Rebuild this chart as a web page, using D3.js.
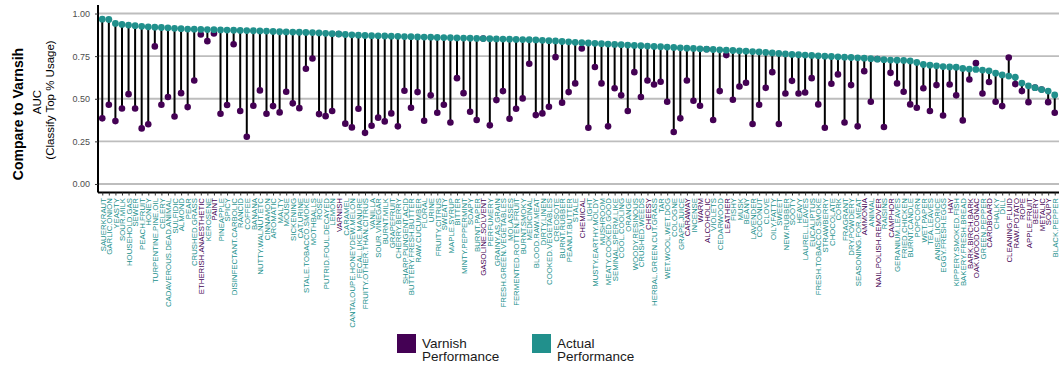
<!DOCTYPE html>
<html>
<head>
<meta charset="utf-8">
<script src="https://cdn.jsdelivr.net/npm/d3@7"></script>
<style>
  body { margin: 0; background: #fff; }
  svg { display: block; font-family: "Liberation Sans", Arial, sans-serif; }
</style>
</head>
<body>
<svg id="chart" width="1062" height="381"></svg>
<script>
// Odor descriptors, ordered by actual AUC
const categories = [
  "SAUERKRAUT","GARLIC.ONION","YEASTY","SOUR.MILK","HOUSEHOLD.GAS","SEWER","PEACH.FRUIT","HONEY",
  "TURPENTINE.PINE.OIL","CELERY","CADAVEROUS.DEAD.ANIMAL","SULFIDIC","ALMOND","PEAR","CRUSHED.GRASS",
  "ETHERISH.ANAESTHETIC","KEROSENE","PAINT","PINEAPPLE","SPICY","DISINFECTANT.CARBOLIC","RANCID","COFFEE",
  "BANANA","NUTTY.WALNUT.ETC","CINNAMON","AROMATIC","MALTY","MOUSE","SICKENING","CAT.URINE",
  "STALE.TOBACCO.SMOKE","MOTHBALLS","ROSE","PUTRID.FOUL.DECAYED","LEMON","VARNISH","CARAMEL",
  "CANTALOUPE.HONEYDEW.MELON","FECAL.LIKE.MANURE","FRUITY.OTHER.THAN.CITRUS","VANILLA","SOUR.VINEGAR",
  "BURNT.MILK","GRAPEFRUIT","CHERRY.BERRY","SHARP.PUNGENT.ACID","BUTTERY.FRESH.BUTTER","RAW.CUCUMBER",
  "FLORAL","URINE","FRUITY.CITRUS","SWEATY","MAPLE.SYRUP","BITTER","MINTY.PEPPERMINT","SOAPY",
  "BURNT.PAPER","GASOLINE.SOLVENT","PERFUMERY","GRAINY.AS.GRAIN","FRESH.GREEN.VEGETABLES","MOLASSES",
  "FERMENTED.ROTTEN.FRUIT","BURNT.SMOKY","MEDICINAL","BLOOD.RAW.MEAT","DIRTY.LINEN","COOKED.VEGETABLES",
  "CREOSOTE","BURNT.RUBBER","PEANUT.BUTTER","STALE","CHEMICAL","LIGHT","MUSTY.EARTHY.MOLDY","MUSHROOM",
  "MEATY.COOKED.GOOD","SEMINAL.SPERM.LIKE","COOL.COOLING","ORANGE","WOODY.RESINOUS","CRUSHED.WEEDS",
  "CHEESY","HERBAL.GREEN.CUT.GRASS","TAR","WET.WOOL.WET.DOG","COLOGNE","GRAPE.JUICE","CARAWAY","INCENSE",
  "WARM","ALCOHOLIC","VIOLETS","CEDARWOOD","LEATHER","FISHY","MUSK","BEANY","LAVENDER","COCONUT","CLOVE",
  "OILY.FATTY","SWEET","NEW.RUBBER","SOOTY","HEAVY","LAUREL.LEAVES","EUCALIPTUS","FRESH.TOBACCO.SMOKE",
  "STRAWBERRY","CHOCOLATE","CORK","FRAGRANT","DRY.POWDERY","SEASONING.FOR.MEAT","AMMONIA","ANIMAL",
  "NAIL.POLISH.REMOVER","RAISINS","CAMPHOR","GERANIUM.LEAVES","FRIED.CHICKEN","BURNT.CANDLE","POPCORN",
  "WET.PAPER","TEA.LEAVES","ANISE.LICORICE","EGGY.FRESH.EGGS","HAY","KIPPERY.SMOKED.FISH",
  "BAKERY.FRESH.BREAD","BARK.BIRCH.BARK","OAK.WOOD.COGNAC","GREEN.PEPPER","CARDBOARD","CHALKY","DILL",
  "CLEANING.FLUID","RAW.POTATO","ROPE","APPLE.FRUIT","BEERY","METALIC","SOUPY","BLACK.PEPPER"
];

// AUC of each descriptor's own classifier
const actualAUC = [
  0.967,0.965,0.942,0.936,0.932,0.929,0.925,0.922,0.920,0.918,0.916,0.913,0.911,0.909,0.908,0.907,
  0.906,0.905,0.904,0.903,0.902,0.901,0.900,0.899,0.898,0.897,0.895,0.893,0.892,0.891,0.890,0.889,
  0.888,0.886,0.884,0.882,0.880,0.877,0.875,0.873,0.871,0.870,0.869,0.868,0.867,0.866,0.865,0.864,
  0.863,0.862,0.861,0.860,0.859,0.858,0.857,0.856,0.855,0.854,0.853,0.852,0.851,0.850,0.849,0.848,
  0.847,0.846,0.845,0.843,0.841,0.839,0.836,0.834,0.831,0.829,0.827,0.825,0.823,0.821,0.819,0.817,
  0.815,0.813,0.811,0.809,0.807,0.805,0.803,0.801,0.799,0.797,0.795,0.793,0.791,0.789,0.787,0.785,
  0.783,0.781,0.779,0.777,0.775,0.772,0.769,0.766,0.763,0.760,0.758,0.756,0.754,0.752,0.750,0.748,
  0.746,0.744,0.742,0.740,0.738,0.735,0.732,0.729,0.727,0.726,0.725,0.722,0.713,0.701,0.697,0.693,
  0.689,0.687,0.685,0.678,0.674,0.672,0.668,0.664,0.650,0.640,0.633,0.626,0.592,0.576,0.565,0.554,
  0.545,0.522
];

// AUC of the varnish classifier applied to each descriptor
const varnishAUC = [
  0.385,0.465,0.369,0.443,0.527,0.443,0.326,0.350,0.807,0.465,0.510,0.396,0.533,0.451,0.607,0.877,
  0.838,0.883,0.412,0.463,0.820,0.428,0.277,0.459,0.549,0.412,0.457,0.420,0.541,0.473,0.445,0.676,
  0.736,0.410,0.398,0.428,0.880,0.354,0.332,0.441,0.300,0.342,0.389,0.367,0.414,0.338,0.547,0.447,
  0.539,0.371,0.520,0.418,0.465,0.361,0.621,0.533,0.424,0.375,0.853,0.344,0.492,0.545,0.383,0.441,
  0.502,0.705,0.404,0.414,0.453,0.744,0.477,0.539,0.590,0.795,0.330,0.686,0.590,0.338,0.562,0.520,
  0.428,0.656,0.510,0.607,0.584,0.600,0.482,0.305,0.385,0.607,0.488,0.459,0.790,0.375,0.545,0.756,
  0.494,0.572,0.594,0.352,0.465,0.564,0.656,0.352,0.531,0.605,0.531,0.537,0.621,0.467,0.330,0.588,
  0.643,0.361,0.580,0.338,0.662,0.482,0.733,0.334,0.652,0.590,0.541,0.467,0.447,0.562,0.428,0.580,
  0.402,0.584,0.520,0.373,0.613,0.709,0.531,0.598,0.482,0.457,0.742,0.586,0.545,0.480,0.565,0.554,
  0.480,0.418
];

// Descriptors whose labels are set in the varnish colour
const varnishLikeLabels = [
  "ETHERISH.ANAESTHETIC","PAINT","VARNISH","GASOLINE.SOLVENT","CHEMICAL","CHEESY","CARAWAY","WARM",
  "ALCOHOLIC","LEATHER","AMMONIA","NAIL.POLISH.REMOVER","CAMPHOR","HAY","BARK.BIRCH.BARK",
  "OAK.WOOD.COGNAC","CARDBOARD","CLEANING.FLUID","RAW.POTATO","ROPE","APPLE.FRUIT","BEERY","METALIC","SOUPY"
];

const yTicks = [0, 0.25, 0.5, 0.75, 1];
const legendLabels = [["Varnish", "Performance"], ["Actual", "Performance"]];

const PURPLE = "#440154";
const TEAL = "#21908C";

const rows = categories.map((c, i) => ({ name: c, actual: actualAUC[i], varnish: varnishAUC[i] }));

const svg = d3.select("#chart");
const plot = { left: 98, right: 1059, top: 5, bottom: 192.5 };

const x = d3.scalePoint().domain(categories).range([plot.left, plot.right]).padding(0.65);
const y = d3.scaleLinear().domain([-0.05, 1.05]).range([plot.bottom, plot.top]);

// grid
svg.append("g").selectAll("line").data(yTicks).join("line")
  .attr("x1", plot.left).attr("x2", plot.right)
  .attr("y1", d => y(d)).attr("y2", d => y(d))
  .attr("stroke", "#bdbdbd").attr("stroke-width", 1.8);

// stems
svg.append("g").selectAll("line").data(rows).join("line")
  .attr("x1", d => x(d.name)).attr("x2", d => x(d.name))
  .attr("y1", d => y(d.actual)).attr("y2", d => y(d.varnish))
  .attr("stroke", "#000").attr("stroke-width", 2);

// varnish points
svg.append("g").selectAll("circle").data(rows).join("circle")
  .attr("cx", d => x(d.name)).attr("cy", d => y(d.varnish)).attr("r", 3.3)
  .attr("fill", PURPLE);

// actual points
svg.append("g").selectAll("circle").data(rows).join("circle")
  .attr("cx", d => x(d.name)).attr("cy", d => y(d.actual)).attr("r", 3.4)
  .attr("fill", TEAL);

// y axis
const yAxis = svg.append("g").attr("transform", `translate(${plot.left},0)`)
  .call(d3.axisLeft(y).tickValues(yTicks).tickFormat(d3.format(".2f")).tickSize(3).tickPadding(5));
yAxis.select(".domain").attr("stroke", "#000").attr("stroke-width", 2)
  .attr("d", `M0,${plot.top}V${plot.bottom}`);
yAxis.selectAll(".tick line").attr("stroke", "#333").attr("stroke-width", 1);
yAxis.selectAll(".tick text").attr("fill", "#4d4d4d").style("font-size", "9px")
  .style("font-family", "'Liberation Sans', Arial, sans-serif");

// x axis
const xAxis = svg.append("g").attr("transform", `translate(0,${plot.bottom})`)
  .call(d3.axisBottom(x).tickSize(3).tickPadding(0));
xAxis.select(".domain").attr("stroke", "#000").attr("stroke-width", 2)
  .attr("d", `M${plot.left},0H${plot.right}`);
xAxis.selectAll(".tick line").attr("stroke", "#333").attr("stroke-width", 1);
xAxis.selectAll(".tick text")
  .attr("transform", "rotate(-90)")
  .attr("text-anchor", "end")
  .attr("x", -5.5).attr("y", 0).attr("dy", "0.35em")
  .style("font-size", "7.8px")
  .style("font-family", "'Liberation Sans', Arial, sans-serif")
  .attr("fill", d => varnishLikeLabels.includes(d) ? PURPLE : TEAL);

// y title
const yTitle = svg.append("g");
yTitle.append("text").attr("transform", "translate(23,114) rotate(-90)")
  .attr("text-anchor", "middle").style("font-size", "14px").style("font-weight", "bold")
  .attr("fill", "#000").text("Compare to Varnsih");
yTitle.append("text").attr("transform", "translate(41,102) rotate(-90)")
  .attr("text-anchor", "middle").style("font-size", "11.5px")
  .attr("fill", "#000").text("AUC");
yTitle.append("text").attr("transform", "translate(54,100) rotate(-90)")
  .attr("text-anchor", "middle").style("font-size", "11.5px")
  .attr("fill", "#000").text("(Classify Top % Usage)");

// legend
const legend = svg.append("g");
const legendItems = [
  { color: PURPLE, lines: legendLabels[0], x: 397 },
  { color: TEAL, lines: legendLabels[1], x: 532 }
];
legendItems.forEach(item => {
  const g = legend.append("g").attr("transform", `translate(${item.x},334)`);
  g.append("rect").attr("width", 19).attr("height", 19).attr("fill", item.color);
  g.append("text").attr("x", 25).attr("y", 14).style("font-size", "13.5px").attr("fill", "#1a1a1a")
    .text(item.lines[0]);
  g.append("text").attr("x", 25).attr("y", 27).style("font-size", "13.5px").attr("fill", "#1a1a1a")
    .text(item.lines[1]);
});
</script>
</body>
</html>
